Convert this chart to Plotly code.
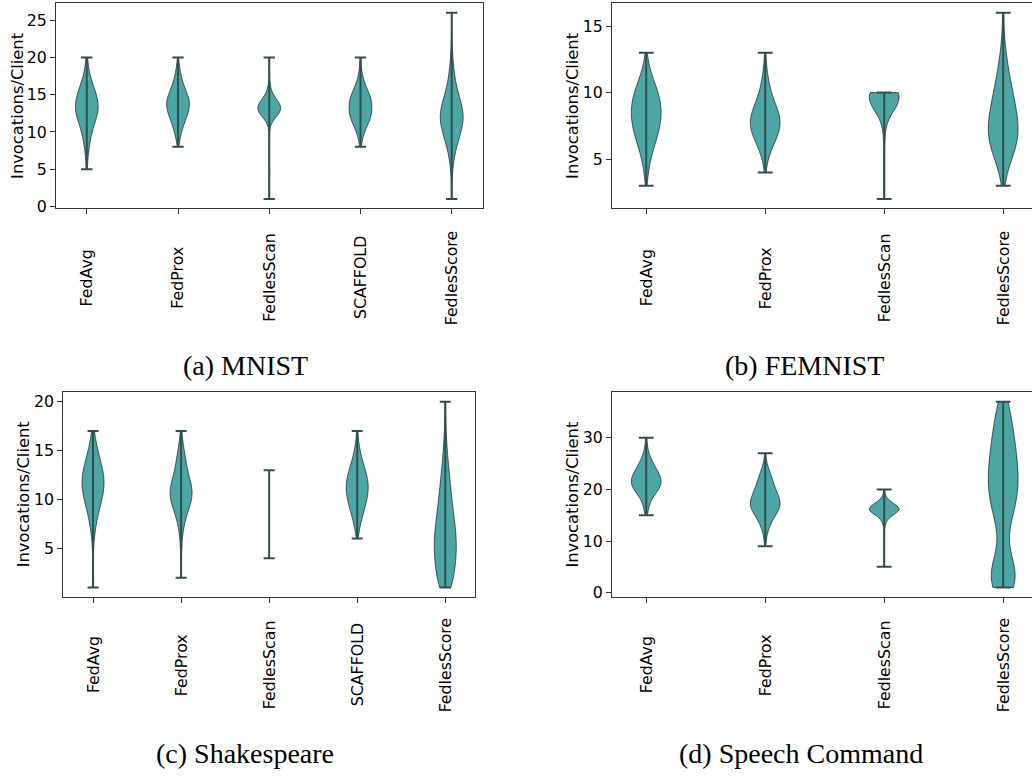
import numpy as np
import plotly.graph_objects as go

# ====================== DATA ======================
mnist_methods = ["FedAvg", "FedProx", "FedlesScan", "SCAFFOLD", "FedlesScore"]
femnist_methods = ["FedAvg", "FedProx", "FedlesScan", "FedlesScore"]
shakespeare_methods = ["FedAvg", "FedProx", "FedlesScan", "SCAFFOLD", "FedlesScore"]
speech_methods = ["FedAvg", "FedProx", "FedlesScan", "FedlesScore"]

panel_titles = ["(a) MNIST", "(b) FEMNIST", "(c) Shakespeare", "(d) Speech Command"]
y_label = "Invocations/Client"

# invocations per client (vals) and number of clients with that value (cnts)
# --- (a) MNIST ---
mnist_fedavg_vals = [5, 6, 7, 8, 9, 10, 11, 12, 13, 14, 15, 16, 17, 18, 19, 20]
mnist_fedavg_cnts = [1, 1, 2, 3, 5, 7, 10, 14, 18, 16, 14, 10, 6, 3, 2, 1]
mnist_fedprox_vals = [8, 9, 10, 11, 12, 13, 14, 15, 16, 17, 18, 19, 20]
mnist_fedprox_cnts = [1, 3, 6, 10, 15, 20, 22, 17, 11, 7, 4, 2, 1]
mnist_fedlesscan_vals = [1, 8, 10, 11, 12, 13, 14, 15, 16, 17, 20]
mnist_fedlesscan_cnts = [1, 1, 1, 2, 18, 40, 28, 10, 3, 1, 1]
mnist_scaffold_vals = [8, 9, 10, 11, 12, 13, 14, 15, 16, 17, 18, 19, 20]
mnist_scaffold_cnts = [1, 3, 6, 12, 18, 19, 19, 16, 9, 5, 2, 1, 1]
mnist_fedlesscore_vals = [1, 3, 5, 6, 7, 8, 9, 10, 11, 12, 13, 14, 15, 16, 17, 18, 19, 20, 21, 23, 26]
mnist_fedlesscore_cnts = [1, 1, 2, 3, 5, 8, 12, 16, 20, 22, 20, 16, 12, 8, 6, 4, 3, 2, 1, 1, 1]

# --- (b) FEMNIST ---
femnist_fedavg_vals = [3, 4, 5, 6, 7, 8, 9, 10, 11, 12, 13]
femnist_fedavg_cnts = [1, 3, 6, 12, 18, 22, 22, 18, 10, 4, 1]
femnist_fedprox_vals = [4, 5, 6, 7, 8, 9, 10, 11, 12, 13]
femnist_fedprox_cnts = [1, 4, 12, 22, 25, 17, 9, 5, 2, 1]
femnist_fedlesscan_vals = [2, 3, 4, 5, 6, 7, 8, 9, 10]
femnist_fedlesscan_cnts = [1, 1, 1, 1, 1, 2, 8, 30, 40]
femnist_fedlesscore_vals = [3, 4, 5, 6, 7, 8, 9, 10, 11, 12, 13, 14, 15, 16]
femnist_fedlesscore_cnts = [2, 5, 12, 20, 23, 21, 18, 14, 10, 7, 4, 2, 1, 1]

# --- (c) Shakespeare ---
shakespeare_fedavg_vals = [1, 3, 5, 6, 7, 8, 9, 10, 11, 12, 13, 14, 15, 16, 17]
shakespeare_fedavg_cnts = [1, 1, 1, 2, 4, 7, 11, 16, 20, 21, 18, 13, 8, 5, 2]
shakespeare_fedprox_vals = [2, 4, 5, 6, 7, 8, 9, 10, 11, 12, 13, 14, 15, 16, 17]
shakespeare_fedprox_cnts = [1, 1, 1, 2, 4, 8, 14, 22, 24, 16, 12, 9, 6, 3, 1]
shakespeare_fedlesscan_vals = [4, 13]
shakespeare_fedlesscan_cnts = [1, 1]
shakespeare_scaffold_vals = [6, 7, 8, 9, 10, 11, 12, 13, 14, 15, 16, 17]
shakespeare_scaffold_cnts = [1, 4, 8, 13, 18, 21, 20, 15, 9, 5, 2, 1]
shakespeare_fedlesscore_vals = [1, 2, 3, 4, 5, 6, 7, 8, 9, 10, 11, 12, 13, 14, 15, 16, 17, 18, 20]
shakespeare_fedlesscore_cnts = [12, 14, 15, 17, 18, 18, 16, 14, 12, 10, 9, 7, 6, 4, 3, 2, 1, 1, 1]

# --- (d) Speech Command ---
speech_fedavg_vals = [15, 16, 17, 18, 19, 20, 21, 22, 23, 24, 25, 26, 27, 28, 29, 30]
speech_fedavg_cnts = [2, 2, 4, 6, 10, 17, 20, 20, 17, 13, 9, 6, 3, 2, 1, 1]
speech_fedprox_vals = [9, 10, 11, 12, 13, 14, 15, 16, 17, 18, 19, 20, 21, 22, 23, 24, 25, 26, 27]
speech_fedprox_cnts = [1, 1, 2, 4, 6, 10, 14, 20, 24, 21, 18, 15, 12, 10, 8, 5, 2, 1, 1]
speech_fedlesscan_vals = [5, 8, 11, 13, 14, 15, 16, 17, 18, 19, 20]
speech_fedlesscan_cnts = [1, 1, 1, 2, 6, 18, 45, 30, 8, 2, 1]
speech_fedlesscore_vals = [1, 2, 3, 4, 5, 6, 7, 8, 10, 11, 12, 13, 14, 15, 16, 17, 18, 19,
                           20, 21, 22, 23, 24, 25, 26, 27, 28, 29, 30, 31, 32, 33, 34, 35, 36, 37]
speech_fedlesscore_cnts = [11, 12, 12, 11, 8, 4, 2, 1, 1, 1, 2, 3, 4, 5, 6, 7, 8, 8,
                           8, 8, 8, 8, 8, 7, 7, 7, 6, 6, 6, 5, 5, 5, 4, 4, 4, 4]

panels = [
    dict(methods=mnist_methods,
         dists=[(mnist_fedavg_vals, mnist_fedavg_cnts), (mnist_fedprox_vals, mnist_fedprox_cnts),
                (mnist_fedlesscan_vals, mnist_fedlesscan_cnts), (mnist_scaffold_vals, mnist_scaffold_cnts),
                (mnist_fedlesscore_vals, mnist_fedlesscore_cnts)],
         body=[True, True, True, True, True], dtick=5),
    dict(methods=femnist_methods,
         dists=[(femnist_fedavg_vals, femnist_fedavg_cnts), (femnist_fedprox_vals, femnist_fedprox_cnts),
                (femnist_fedlesscan_vals, femnist_fedlesscan_cnts),
                (femnist_fedlesscore_vals, femnist_fedlesscore_cnts)],
         body=[True, True, True, True], dtick=5),
    dict(methods=shakespeare_methods,
         dists=[(shakespeare_fedavg_vals, shakespeare_fedavg_cnts),
                (shakespeare_fedprox_vals, shakespeare_fedprox_cnts),
                (shakespeare_fedlesscan_vals, shakespeare_fedlesscan_cnts),
                (shakespeare_scaffold_vals, shakespeare_scaffold_cnts),
                (shakespeare_fedlesscore_vals, shakespeare_fedlesscore_cnts)],
         body=[True, True, False, True, True], dtick=5),
    dict(methods=speech_methods,
         dists=[(speech_fedavg_vals, speech_fedavg_cnts), (speech_fedprox_vals, speech_fedprox_cnts),
                (speech_fedlesscan_vals, speech_fedlesscan_cnts),
                (speech_fedlesscore_vals, speech_fedlesscore_cnts)],
         body=[True, True, True, True], dtick=10),
]

# ====================== STYLE / GEOMETRY ======================
W, H = 1032, 778
VIOLIN_WIDTH = 0.25
FILL = "rgba(0,128,128,0.7)"
EDGE = "rgba(0,0,0,0.6)"
LINE = "#2F4F4F"
AXCOL = "#333333"
SANS = "DejaVu Sans"
SERIF = "Liberation Serif"
TICK_SIZE = 15.8
LABEL_SIZE = 16.3

geom = [
    dict(x0=56, x1=482.5, y0=3.5, y1=210.5, full_px=426.5, ytitle_x=18, labels_y=280.5, title_xc=245, title_y=369, mirror_y=True),
    dict(x0=612, x1=1032, y0=3.5, y1=210.5, full_px=425.4, ytitle_x=573, labels_y=281, title_xc=804, title_y=369, mirror_y=False),
    dict(x0=63.3, x1=475, y0=396.5, y1=603, full_px=411.7, ytitle_x=23.7, labels_y=672, title_xc=244.5, title_y=761, mirror_y=True),
    dict(x0=612, x1=1032, y0=396.5, y1=603, full_px=425.4, ytitle_x=573, labels_y=672, title_xc=801, title_y=761, mirror_y=False),
]

fig = go.Figure()
annotations = []
layout_axes = {}

for i, (p, g) in enumerate(zip(panels, geom)):
    s = "" if i == 0 else str(i + 1)
    xa, ya = "x" + s, "y" + s
    n = len(p["methods"])
    positions = list(range(1, n + 1))

    all_samples = []
    seg_x, seg_y = [], []
    for pos, (vals, cnts), body in zip(positions, p["dists"], p["body"]):
        samples = np.repeat(np.array(vals, dtype=float), np.array(cnts))
        all_samples.append(samples)
        if body:
            bw = samples.std(ddof=1) * len(samples) ** (-1 / 5)  # Scott's rule like matplotlib
            fig.add_trace(go.Violin(
                x=np.full(len(samples), pos), y=samples, xaxis=xa, yaxis=ya,
                width=VIOLIN_WIDTH, scalemode="width", spanmode="hard", bandwidth=bw,
                points=False, box_visible=False, meanline_visible=False,
                fillcolor=FILL, line=dict(color=EDGE, width=1),
                showlegend=False, hoverinfo="skip", side="both", orientation="v",
            ))
        lo, hi = samples.min(), samples.max()
        half = VIOLIN_WIDTH / 4
        seg_x += [pos, pos, None, pos - half, pos + half, None, pos - half, pos + half, None]
        seg_y += [lo, hi, None, lo, lo, None, hi, hi, None]

    fig.add_trace(go.Scatter(x=seg_x, y=seg_y, xaxis=xa, yaxis=ya, mode="lines",
                             line=dict(color=LINE, width=2), showlegend=False, hoverinfo="skip"))

    allv = np.concatenate(all_samples)
    dmin, dmax = allv.min(), allv.max()
    ypad = 0.05 * (dmax - dmin)
    xlo = 1 - VIOLIN_WIDTH / 2 - 0.05 * (n - 1 + VIOLIN_WIDTH)
    full_units = n - 1 + VIOLIN_WIDTH + 0.1 * (n - 1 + VIOLIN_WIDTH)
    xhi = xlo + full_units * (g["x1"] - g["x0"]) / g["full_px"]

    axname_x = "xaxis" + s
    axname_y = "yaxis" + s
    layout_axes[axname_x] = dict(
        domain=[g["x0"] / W, g["x1"] / W], anchor=ya, range=[xlo, xhi],
        tickvals=positions, showticklabels=False, ticks="outside", ticklen=5, tickwidth=1.2,
        tickcolor=AXCOL, showline=True, linecolor=AXCOL, linewidth=1.2, mirror=True,
        showgrid=False, zeroline=False,
    )
    layout_axes[axname_y] = dict(
        domain=[1 - g["y1"] / H, 1 - g["y0"] / H], anchor=xa, range=[dmin - ypad, dmax + ypad],
        tick0=0, dtick=p["dtick"], ticks="outside", ticklen=5, tickwidth=1.2, tickcolor=AXCOL,
        tickfont=dict(family=SANS, size=TICK_SIZE, color="black"),
        showline=True, linecolor=AXCOL, linewidth=1.2, mirror=g["mirror_y"],
        showgrid=False, zeroline=False,
    )

    # category labels (rotated, centred below the axis)
    for pos, m in zip(positions, p["methods"]):
        annotations.append(dict(
            x=pos, xref=xa, y=1 - g["labels_y"] / H, yref="paper", text=m, textangle=-90,
            showarrow=False, xanchor="center", yanchor="middle",
            font=dict(family=SANS, size=TICK_SIZE, color="black"),
        ))
    # y-axis title
    annotations.append(dict(
        x=g["ytitle_x"] / W, xref="paper", y=1 - (g["y0"] + g["y1"]) / 2 / H, yref="paper",
        text=y_label, textangle=-90, showarrow=False, xanchor="center", yanchor="middle",
        font=dict(family=SANS, size=LABEL_SIZE, color="black"),
    ))
    # panel caption
    annotations.append(dict(
        x=g["title_xc"] / W, xref="paper", y=1 - g["title_y"] / H, yref="paper",
        text=panel_titles[i], showarrow=False, xanchor="center", yanchor="middle",
        font=dict(family=SERIF, size=28, color="black"),
    ))

fig.update_layout(
    width=W, height=H, margin=dict(l=0, r=0, t=0, b=0),
    paper_bgcolor="white", plot_bgcolor="white",
    violinmode="overlay", showlegend=False,
    annotations=annotations, **layout_axes,
)

fig.write_html("out.html")
